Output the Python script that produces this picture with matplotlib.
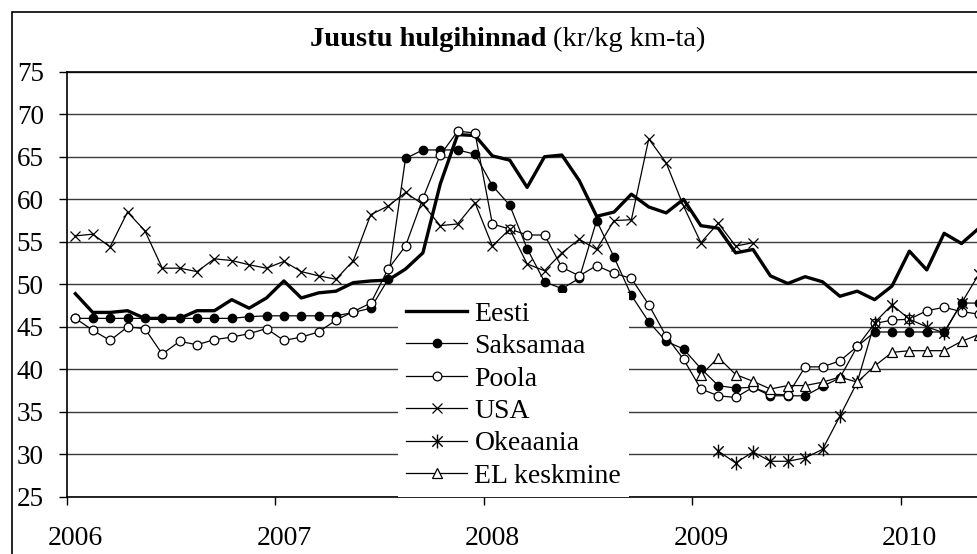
import numpy as np
import matplotlib
matplotlib.use('Agg')
import matplotlib.pyplot as plt
from matplotlib.path import Path
from matplotlib.patches import Rectangle

plt.rcParams['font.family'] = ['Liberation Serif', 'DejaVu Serif']

# kuud: jaan 2006 ... mai 2010
years = ['2006', '2007', '2008', '2009', '2010']
nan = np.nan

eesti = [48.9, 46.7, 46.7, 46.9, 46.0, 46.0, 46.0, 46.9, 46.9, 48.2, 47.2, 48.4,
         50.4, 48.4, 49.0, 49.2, 50.2, 50.4, 50.5, 51.8, 53.7, 61.8, 67.6, 67.5,
         65.1, 64.6, 61.4, 65.0, 65.2, 62.2, 58.0, 58.5, 60.6, 59.1, 58.4, 60.0,
         56.9, 56.6, 53.7, 54.1, 51.0, 50.1, 50.9, 50.3, 48.6, 49.2, 48.2, 49.8,
         53.9, 51.7, 56.0, 54.8, 56.6]
saksamaa = [46.0, 46.0, 46.0, 46.0, 46.0, 46.0, 46.0, 46.0, 46.0, 46.0, 46.2, 46.3,
            46.3, 46.3, 46.3, 46.3, 46.7, 47.2, 50.6, 64.8, 65.8, 65.8, 65.8, 65.3,
            61.6, 59.3, 54.2, 50.3, 49.5, 50.7, 57.5, 53.2, 48.7, 45.6, 43.3, 42.4,
            40.1, 38.1, 37.8, 37.9, 36.9, 36.9, 36.9, 38.0, 39.0, 42.7, 44.4, 44.4,
            44.4, 44.4, 44.4, 47.8, 47.8]
poola = [46.0, 44.6, 43.4, 45.0, 44.8, 41.8, 43.3, 42.9, 43.5, 43.8, 44.2, 44.8,
         43.4, 43.8, 44.4, 45.8, 46.8, 47.8, 51.8, 54.5, 60.1, 65.2, 68.0, 67.8,
         57.1, 56.5, 55.8, 55.8, 52.0, 51.0, 52.2, 51.3, 50.7, 47.6, 43.9, 41.2,
         37.7, 36.9, 36.7, 37.9, 37.1, 37.0, 40.3, 40.3, 41.0, 42.7, 45.4, 45.8,
         45.9, 46.9, 47.3, 46.8, 46.5]
usa = [55.7, 55.9, 54.4, 58.5, 56.3, 51.9, 51.9, 51.5, 53.0, 52.8, 52.3, 51.9,
       52.7, 51.5, 51.0, 50.6, 52.8, 58.2, 59.2, 60.8, 59.4, 56.9, 57.1, 59.6,
       54.5, 56.5, 52.4, 51.6, 53.7, 55.3, 54.1, 57.5, 57.6, 67.1, 64.3, 59.2,
       54.9, 57.2, 54.5, 54.9] + [nan] * 13
okeaania = [nan] * 37 + [30.4, 29.0, 30.3, 29.2, 29.2, 29.6, 30.6, 34.5, 38.5,
                         45.5, 47.6, 45.9, 45.0, 44.3, 47.8, 51.2]
el_keskmine = [nan] * 36 + [39.3, 41.4, 39.4, 38.6, 37.7, 38.1, 38.1, 38.5, 39.1,
                            38.5, 40.4, 42.0, 42.2, 42.2, 42.2, 43.3, 44.1]

x = np.arange(len(eesti))

# Exceli "täht" marker: x + püstjoon
star = Path([(0, -1), (0, 1), (-0.75, -0.75), (0.75, 0.75), (-0.75, 0.75), (0.75, -0.75)],
            [Path.MOVETO, Path.LINETO, Path.MOVETO, Path.LINETO, Path.MOVETO, Path.LINETO])

fig = plt.figure(figsize=(9.78, 5.54), dpi=100)
ax = fig.add_axes([66.7 / 978, 57 / 554, 54 * 17.375 / 978, 425.3 / 554])

# välimine raam
fig.patches.append(Rectangle((11.7 / 978, -0.1), 2, 1.1 - 11.7 / 554, transform=fig.transFigure,
                             fill=False, edgecolor='black', lw=1.2))

thin = 0.9
ax.plot(x, eesti, color='black', lw=2.4, label='Eesti', zorder=3)
ax.plot(x, saksamaa, color='black', lw=thin, marker='o', ms=6, mfc='black', mec='black',
        label='Saksamaa', zorder=3)
ax.plot(x, poola, color='black', lw=thin, marker='o', ms=6.3, mfc='white', mec='black', mew=0.9,
        label='Poola', zorder=3)
ax.plot(x, usa, color='black', lw=thin, marker='x', ms=7.5, mew=0.9, label='USA', zorder=3)
ax.plot(x, okeaania, color='black', lw=thin, marker=star, ms=10, mew=1.0, label='Okeaania', zorder=3)
ax.plot(x, el_keskmine, color='black', lw=thin, marker='^', ms=7, mfc='white', mec='black',
        mew=0.9, label='EL keskmine', zorder=3)

ax.set_ylim(25, 75)
ax.set_yticks(range(25, 80, 5))
ax.set_xlim(-0.5, 53.5)
ax.set_xticks(np.arange(-0.5, 54, 12))
ax.set_xticklabels([])
ax.set_xticks(np.arange(0, 53, 12), minor=True)
ax.set_xticklabels(years, minor=True)
ax.tick_params(axis='x', which='major', direction='out', length=6, width=1)
ax.tick_params(axis='x', which='minor', length=0, pad=21, labelsize=20)
ax.tick_params(axis='y', direction='out', length=6, width=1, pad=10.5, labelsize=19.5)

ax.yaxis.grid(True, color='#3a3a3a', lw=1)
ax.set_axisbelow(True)
for s in ['left', 'bottom', 'top']:
    ax.spines[s].set_linewidth(1.2)
ax.spines['right'].set_visible(False)

leg = ax.legend(loc='upper left', bbox_to_anchor=(398 / 978, 1 - 293 / 554),
                bbox_transform=fig.transFigure, fontsize=20, frameon=True, fancybox=False,
                edgecolor='none', facecolor='white', framealpha=1, borderpad=0.3,
                handlelength=2.2, handletextpad=0.25, labelspacing=0.25, borderaxespad=0)
leg.set_zorder(5)

fig.text(547 / 978, 1 - 45.7 / 554, 'Juustu hulgihinnad', ha='right', va='baseline',
         fontsize=20.5, fontweight='bold')
fig.text(553 / 978, 1 - 45.7 / 554, '(kr/kg km-ta)', ha='left', va='baseline', fontsize=20.5)

fig.savefig('out.png', dpi=100)
